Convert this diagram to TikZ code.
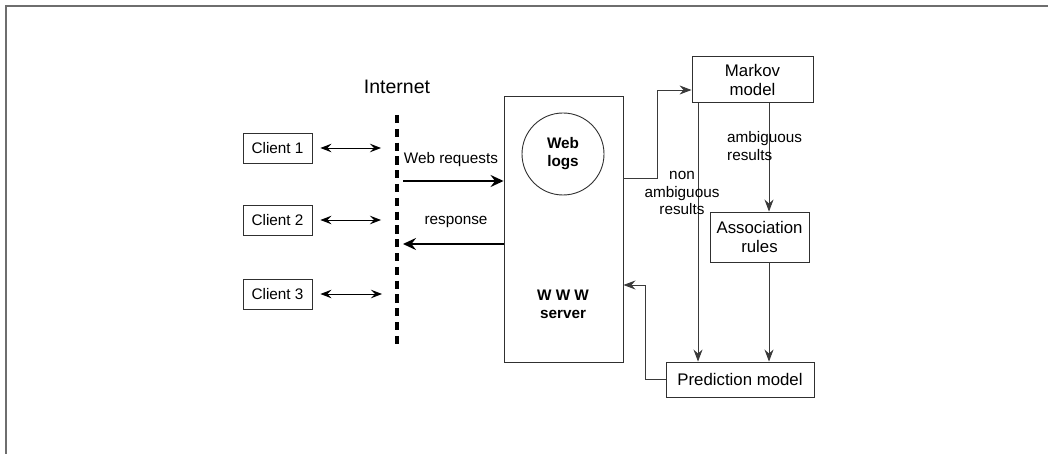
\documentclass[tikz,border=0pt]{standalone}
\usepackage{fontspec}
\setmainfont{Liberation Sans}
\usetikzlibrary{arrows.meta}
\definecolor{frame}{HTML}{6E6E6E}
\definecolor{boxc}{HTML}{303030}
\definecolor{linec}{HTML}{3A3A3A}
\tikzset{
  box/.style={draw=boxc, line width=0.9pt, inner sep=0pt, align=center},
  lbl/.style={font=\fontsize{15.3}{17.5}\selectfont, inner sep=0pt},
  big/.style={font=\fontsize{16.8}{19}\selectfont},
  tip/.style={-{Stealth[length=12pt,width=9pt,inset=4pt]}},
  dtip/.style={{Stealth[length=11pt,width=8.5pt,inset=4pt]}-{Stealth[length=11pt,width=8.5pt,inset=4pt]}},
  conn/.style={draw=linec, line width=0.9pt, tip},
  thick arrow/.style={line width=2.8pt, -{Stealth[length=13pt,width=12pt,inset=4.5pt]}},
}
\begin{document}
\begin{tikzpicture}[x=1pt,y=-1pt]
\useasboundingbox (0,0) rectangle (1048,454);
% frame
\draw[frame, line width=1.8pt] (6,454) -- (6,6) -- (1048,6);
% clients
\node[box, lbl, minimum width=69, minimum height=30] (c1) at (277.5,148) {Client 1};
\node[box, lbl, minimum width=69, minimum height=30] (c2) at (277.5,220) {Client 2};
\node[box, lbl, minimum width=69, minimum height=30] (c3) at (277.5,294) {Client 3};
% internet
\node[inner sep=0pt, font=\fontsize{19.5}{22}\selectfont] (inet) at (397,87) {Internet};
\coordinate (dtop) at (397,115);
\coordinate (dbot) at (397,345);
\draw[line width=3.6pt, dash pattern=on 8.2pt off 5.6pt] (dtop) -- (dbot);
\coordinate (a1) at (381,148);
\coordinate (a2) at (381,220);
\coordinate (a3) at (382,294);
\draw[dtip, line width=0.9pt, shorten <=8pt] (c1.east) -- (a1);
\draw[dtip, line width=0.9pt, shorten <=8pt] (c2.east) -- (a2);
\draw[dtip, line width=0.9pt, shorten <=8pt] (c3.east) -- (a3);
% server
\node[box, minimum width=119, minimum height=266] (srv) at (563.5,229) {};
\node[draw=boxc, line width=0.9pt, circle, minimum size=82, inner sep=0pt, align=center,
      font=\fontsize{15.3}{18}\selectfont\bfseries] (wl) at (563,154) {Web\\logs};
\node[inner sep=0pt, align=center, font=\fontsize{15.3}{18}\selectfont\bfseries] (wtxt) at (563,304) {W W W\\server};
% requests / response
\coordinate (rq) at (403,181);
\coordinate (rs) at (403,244);
\draw[thick arrow] (rq) -- (srv.west |- rq);
\draw[thick arrow] (srv.west |- rs) -- (rs);
\node[lbl] (rqt) at (451,160) {Web requests};
\node[lbl] (rst) at (456,222) {response};
% right side
\node[box, big, minimum width=121, minimum height=46] (mk) at (752.5,79.5) {Markov\\model};
\node[box, big, minimum width=99, minimum height=50] (ar) at (759.5,237) {Association\\rules};
\node[box, big, minimum width=148, minimum height=35] (pm) at (740,379.5) {Prediction model};
\coordinate (k1) at (657,178);
\coordinate (k2) at (657,90);
\coordinate (k3) at (698,0);
\coordinate (k4) at (769,0);
\coordinate (k5) at (645,285);
\draw[conn] (srv.east |- k1) -- (k1) -- (k2) -- (mk.west |- k2);
\draw[conn] (mk.south -| k3) -- (pm.north -| k3);
\draw[conn] (mk.south -| k4) -- (ar.north -| k4);
\draw[conn] (ar.south -| k4) -- (pm.north -| k4);
\draw[conn] (pm.west) -| (k5) -- (srv.east |- k5);
\node[lbl, align=center] (nar) at (682,193) {non\\ambiguous\\results};
\node[lbl, align=left, anchor=west] (amb) at (727,146) {ambiguous\\results};
\end{tikzpicture}
\end{document}
